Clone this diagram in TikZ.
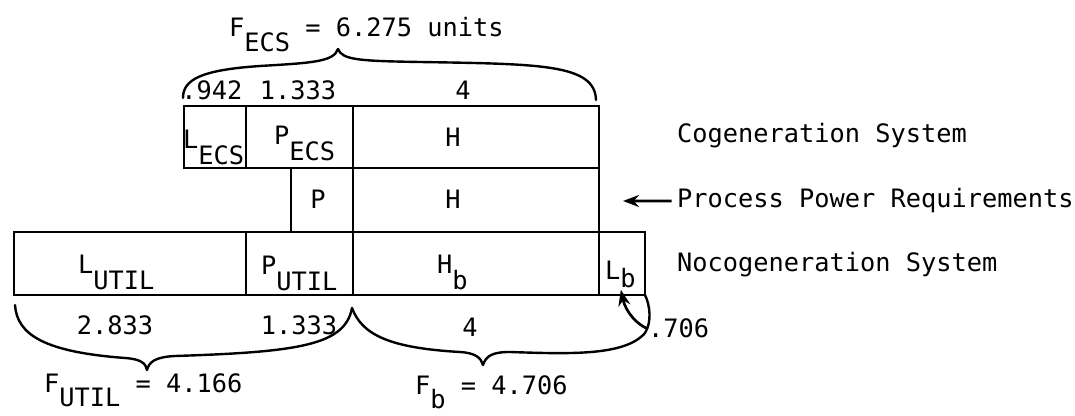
\documentclass[tikz,border=0pt]{standalone}
\usepackage{fontspec}
\setmainfont{DejaVu Sans Mono}
\usetikzlibrary{arrows.meta}
\newcommand{\dsub}[2][12pt]{\raisebox{-#1}{#2}}
\begin{document}
\begin{tikzpicture}[x=0.75pt,y=-0.75pt,
  cell/.style={draw, line width=1.3pt, inner sep=0pt, outer sep=0pt},
  lab/.style={inner sep=0pt, outer sep=0pt, font=\fontsize{19}{22}\selectfont},
  brace/.style={line width=1.8pt, line cap=round, line join=round},
  arr/.style={line width=2pt, -{Stealth[length=12pt,width=9pt]}}]
\useasboundingbox[fill=white] (0,0) rectangle (1075,416);

% cells: top row (cogeneration system)
\node[cell, minimum width=46.5pt, minimum height=46.5pt] (LECS) at (215,137) {};
\node[cell, minimum width=80.25pt, minimum height=46.5pt] (PECS) at (299.5,137) {};
\node[cell, minimum width=184.5pt, minimum height=46.5pt] (H1) at (476,137) {};
% middle row (process power requirements)
\node[cell, minimum width=46.5pt, minimum height=48pt] (P) at (322,200) {};
\node[cell, minimum width=184.5pt, minimum height=48pt] (H2) at (476,200) {};
% bottom row (nocogeneration system)
\node[cell, minimum width=174pt, minimum height=47.25pt] (LUTIL) at (130,263.5) {};
\node[cell, minimum width=80.25pt, minimum height=47.25pt] (PUTIL) at (299.5,263.5) {};
\node[cell, minimum width=184.5pt, minimum height=47.25pt] (Hb) at (476,263.5) {};
\node[cell, minimum width=34.5pt, minimum height=47.25pt] (Lb) at (622,263.5) {};

% cell labels
\node[lab, anchor=base west] (tLECS) at (183,149) {L\dsub{ECS}};
\node[lab, anchor=base west] (tPECS) at (274,145) {P\dsub{ECS}};
\node[lab, anchor=base] (tH1) at (453,147) {H};
\node[lab, anchor=base] (tP) at (318,209) {P};
\node[lab, anchor=base] (tH2) at (453,209) {H};
\node[lab, anchor=base west] (tLUTIL) at (78,274) {L\dsub{UTIL}};
\node[lab, anchor=base west] (tPUTIL) at (261,275) {P\dsub{UTIL}};
\node[lab, anchor=base west] (tHb) at (437,274) {H\dsub{b}};
\node[lab, anchor=base west] (tLb) at (605,280) {L\dsub[6pt]{b}};

% top numbers and brace
\node[lab, anchor=base] (n942) at (212,100) {.942};
\node[lab, anchor=base] (n1333a) at (298,100) {1.333};
\node[lab, anchor=base] (n4a) at (463,100) {4};
\node[lab, anchor=base west] (FECS) at (229,37) {F\dsub[11pt]{ECS} = 6.275 units};
\draw[brace] (183,98) .. controls (183,80) and (200,70) .. (260,66)
  .. controls (310,63) and (334,62) .. (338,49)
  .. controls (342,60) and (360,61) .. (420,62)
  .. controls (540,64) and (595,64) .. (596,100);

% bottom numbers and braces
\node[lab, anchor=base] (n2833) at (115,335) {2.833};
\node[lab, anchor=base] (n1333b) at (299,335) {1.333};
\node[lab, anchor=base] (n4b) at (470,337) {4};
\node[lab, anchor=base west] (n706) at (648,338) {.706};
\node[lab, anchor=base west] (FUTIL) at (44,393) {F\dsub[10.5pt]{UTIL} = 4.166};
\node[lab, anchor=base west] (Fb) at (415,395) {F\dsub[10pt]{b} = 4.706};
\draw[brace] (15,305) .. controls (17,335) and (45,352) .. (125,358)
  .. controls (140,359) and (146,363) .. (147,370)
  .. controls (149,362) and (155,357) .. (175,356)
  .. controls (300,352) and (345,345) .. (352,308);
\draw[brace] (352,308) .. controls (362,335) and (390,348) .. (460,352)
  .. controls (476,353) and (481,358) .. (483,365)
  .. controls (486,356) and (492,352) .. (510,352)
  .. controls (570,354) and (625,356) .. (645,333)
  .. controls (652,322) and (650,305) .. (645,295);
\draw[arr, shorten <=1pt, shorten >=-4pt] (n706.west) .. controls +(-10,-4) and +(4,18) .. (Lb.south);

% right-hand descriptions
\node[lab, anchor=base west] (cog) at (677,143) {Cogeneration System};
\node[lab, anchor=base west] (ppr) at (677,208) {Process Power Requirements};
\node[lab, anchor=base west] (nocog) at (677,272) {Nocogeneration System};
\coordinate (ptip) at (623,201);
\draw[arr, shorten <=4pt] (ppr.west) -- (ptip);
\end{tikzpicture}
\end{document}
